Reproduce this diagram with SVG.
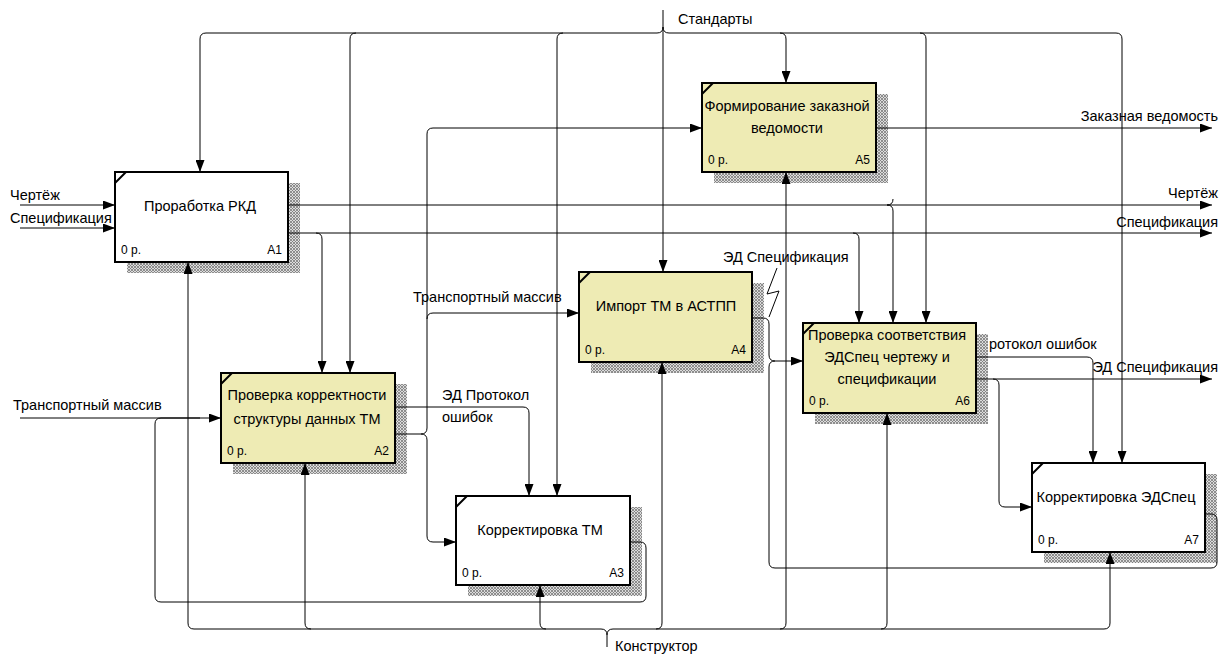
<svg xmlns="http://www.w3.org/2000/svg" width="1226" height="655" viewBox="0 0 1226 655">
<style>
text{font-family:"Liberation Sans",Arial,sans-serif;fill:#000}
.lbl{font-size:14.5px}
.bt{font-size:14.5px;text-anchor:middle}
.sm{font-size:12px}
.smr{font-size:12px;text-anchor:end}
.box{stroke:#000;stroke-width:2}
.y{fill:#EEEBB4}
.w{fill:#fff}
.sh{fill:url(#hatch)}
.cn{stroke:#000;stroke-width:2}
.c{fill:none;stroke:#000;stroke-width:1}
.a{marker-end:url(#arr)}
</style>
<defs>
<pattern id="hatch" width="3" height="3" patternUnits="userSpaceOnUse">
<rect width="3" height="3" fill="#dcdcdc"/>
<path d="M0,0 L3,3 M3,0 L0,3" stroke="#7a7a7a" stroke-width="0.8"/>
</pattern>
<marker id="arr" markerWidth="12" markerHeight="9" refX="12" refY="4.5" orient="auto" markerUnits="userSpaceOnUse">
<path d="M0,0 L12,4.5 L0,9 z" fill="#000"/>
</marker>
</defs>
<rect width="1226" height="655" fill="#fff"/>

<g id="shadows">
<rect class="sh" x="127" y="183" width="173" height="90"/>
<rect class="sh" x="233" y="384" width="174" height="90"/>
<rect class="sh" x="468" y="507" width="174" height="89"/>
<rect class="sh" x="591" y="283" width="173" height="90"/>
<rect class="sh" x="714" y="94" width="174" height="89"/>
<rect class="sh" x="815" y="334" width="173" height="90"/>
<rect class="sh" x="1044" y="474" width="173" height="89"/>
</g>

<g id="connectors">
<!-- Стандарты -->
<path class="c a" d="M663,10 V272"/>
<path class="c a" d="M663,27 Q663,33 657,33 H206 Q200,33 200,39 V172"/>
<path class="c a" d="M663,27 Q663,33 669,33 H1116 Q1122,33 1122,39 V463"/>
<path class="c a" d="M356,33 Q350,33 350,39 V373"/>
<path class="c a" d="M563,33 Q557,33 557,39 V496"/>
<path class="c a" d="M780,33 Q786,33 786,39 V83"/>
<path class="c a" d="M920,33 Q926,33 926,39 V323"/>
<!-- Конструктор -->
<path class="c a" d="M607,647 V635 Q607,629 601,629 H194 Q188,629 188,623 V262"/>
<path class="c a" d="M607,635 Q607,629 613,629 H1104 Q1110,629 1110,623 V552"/>
<path class="c a" d="M311,629 Q305,629 305,623 V463"/>
<path class="c a" d="M546,629 Q540,629 540,623 V585"/>
<path class="c a" d="M656,629 Q662,629 662,623 V362"/>
<path class="c a" d="M780,629 Q786,629 786,623 V172"/>
<path class="c a" d="M881,629 Q887,629 887,623 V413"/>
<!-- inputs -->
<path class="c a" d="M20,205 H115"/>
<path class="c a" d="M20,228 H115"/>
<path class="c a" d="M20,418 H221"/>
<!-- A1 outputs -->
<path class="c a" d="M288,205 H1212"/>
<path class="c" d="M893,199 Q893,205 887,205"/>
<path class="c a" d="M887,205 Q893,205 893,211 V323"/>
<path class="c a" d="M288,233 H1212"/>
<path class="c a" d="M316,233 Q322,233 322,239 V373"/>
<path class="c a" d="M853,233 Q859,233 859,239 V323"/>
<!-- A2 outputs -->
<path class="c a" d="M395,407 H523 Q529,407 529,413 V496"/>
<path class="c a" d="M395,434 H421 Q427,434 427,428 V319 Q427,313 433,313 H579"/>
<path class="c a" d="M427,319 V134 Q427,128 433,128 H702"/>
<path class="c a" d="M421,434 Q427,434 427,440 V536 Q427,542 433,542 H456"/>
<!-- A3 output loop -->
<path class="c" d="M630,542 H640 Q646,542 646,548 V596 Q646,602 640,602 H161 Q155,602 155,596 V424 Q155,418 161,418 H200"/>
<!-- A4 output -->
<path class="c a" d="M752,318 H763 Q769,318 769,324 V355 Q769,361 775,361 H803"/>
<path class="c" d="M777,268 L767,294 L779,291 L769,317"/>
<!-- A7 output loop -->
<path class="c" d="M1205,514 H1211 Q1217,514 1217,520 V562 Q1217,568 1211,568 H775 Q769,568 769,562 V367 Q769,361 775,361"/>
<!-- A5 output -->
<path class="c a" d="M876,128 H1212"/>
<!-- A6 outputs -->
<path class="c a" d="M976,357 H1087 Q1093,357 1093,363 V463"/>
<path class="c a" d="M976,379 H1212"/>
<path class="c a" d="M993,379 Q999,379 999,385 V501 Q999,507 1005,507 H1032"/>
</g>

<g id="labels">
<text class="lbl" x="678" y="24">Стандарты</text>
<text class="lbl" x="615" y="651">Конструктор</text>
<text class="lbl" x="10" y="200">Чертёж</text>
<text class="lbl" x="10" y="223">Спецификация</text>
<text class="lbl" x="13" y="410">Транспортный массив</text>
<text class="lbl" x="1218" y="121" text-anchor="end">Заказная ведомость</text>
<text class="lbl" x="1218" y="198" text-anchor="end">Чертёж</text>
<text class="lbl" x="1218" y="227" text-anchor="end">Спецификация</text>
<text class="lbl" x="723" y="262">ЭД Спецификация</text>
<text class="lbl" x="413" y="302">Транспортный массив</text>
<text class="lbl" x="442" y="400">ЭД Протокол</text>
<text class="lbl" x="442" y="422">ошибок</text>
<text class="lbl" x="989" y="349">ротокол ошибок</text>
<text class="lbl" x="1218" y="372" text-anchor="end">ЭД Спецификация</text>
</g>

<g id="A1">
<rect class="box w" x="115" y="172" width="173" height="90"/>
<line class="cn" x1="115" y1="183" x2="126" y2="172"/>
<text class="bt" x="200" y="211">Проработка РКД</text>
<text class="sm" x="121" y="254">0 р.</text>
<text class="smr" x="282" y="254">A1</text>
</g>
<g id="A2">
<rect class="box y" x="221" y="373" width="174" height="90"/>
<line class="cn" x1="221" y1="384" x2="232" y2="373"/>
<text class="bt" x="307" y="400">Проверка корректности</text>
<text class="bt" x="307" y="424">структуры данных ТМ</text>
<text class="sm" x="227" y="455">0 р.</text>
<text class="smr" x="389" y="455">A2</text>
</g>
<g id="A3">
<rect class="box w" x="456" y="496" width="174" height="89"/>
<line class="cn" x1="456" y1="507" x2="467" y2="496"/>
<text class="bt" x="540" y="535">Корректировка ТМ</text>
<text class="sm" x="462" y="577">0 р.</text>
<text class="smr" x="624" y="577">A3</text>
</g>
<g id="A4">
<rect class="box y" x="579" y="272" width="173" height="90"/>
<line class="cn" x1="579" y1="283" x2="590" y2="272"/>
<text class="bt" x="666" y="311">Импорт ТМ в АСТПП</text>
<text class="sm" x="585" y="354">0 р.</text>
<text class="smr" x="746" y="354">A4</text>
</g>
<g id="A5">
<rect class="box y" x="702" y="83" width="174" height="89"/>
<line class="cn" x1="702" y1="94" x2="713" y2="83"/>
<text class="bt" x="787" y="111">Формирование заказной</text>
<text class="bt" x="787" y="133">ведомости</text>
<text class="sm" x="708" y="164">0 р.</text>
<text class="smr" x="870" y="164">A5</text>
</g>
<g id="A6">
<rect class="box y" x="803" y="323" width="173" height="90"/>
<line class="cn" x1="803" y1="334" x2="814" y2="323"/>
<text class="bt" x="887" y="340">Проверка соответствия</text>
<text class="bt" x="887" y="362">ЭДСпец чертежу и</text>
<text class="bt" x="887" y="384">спецификации</text>
<text class="sm" x="809" y="405">0 р.</text>
<text class="smr" x="970" y="405">A6</text>
</g>
<g id="A7">
<rect class="box w" x="1032" y="463" width="173" height="89"/>
<line class="cn" x1="1032" y1="474" x2="1043" y2="463"/>
<text class="bt" x="1116" y="502">Корректировка ЭДСпец</text>
<text class="sm" x="1038" y="544">0 р.</text>
<text class="smr" x="1199" y="544">A7</text>
</g>
</svg>
